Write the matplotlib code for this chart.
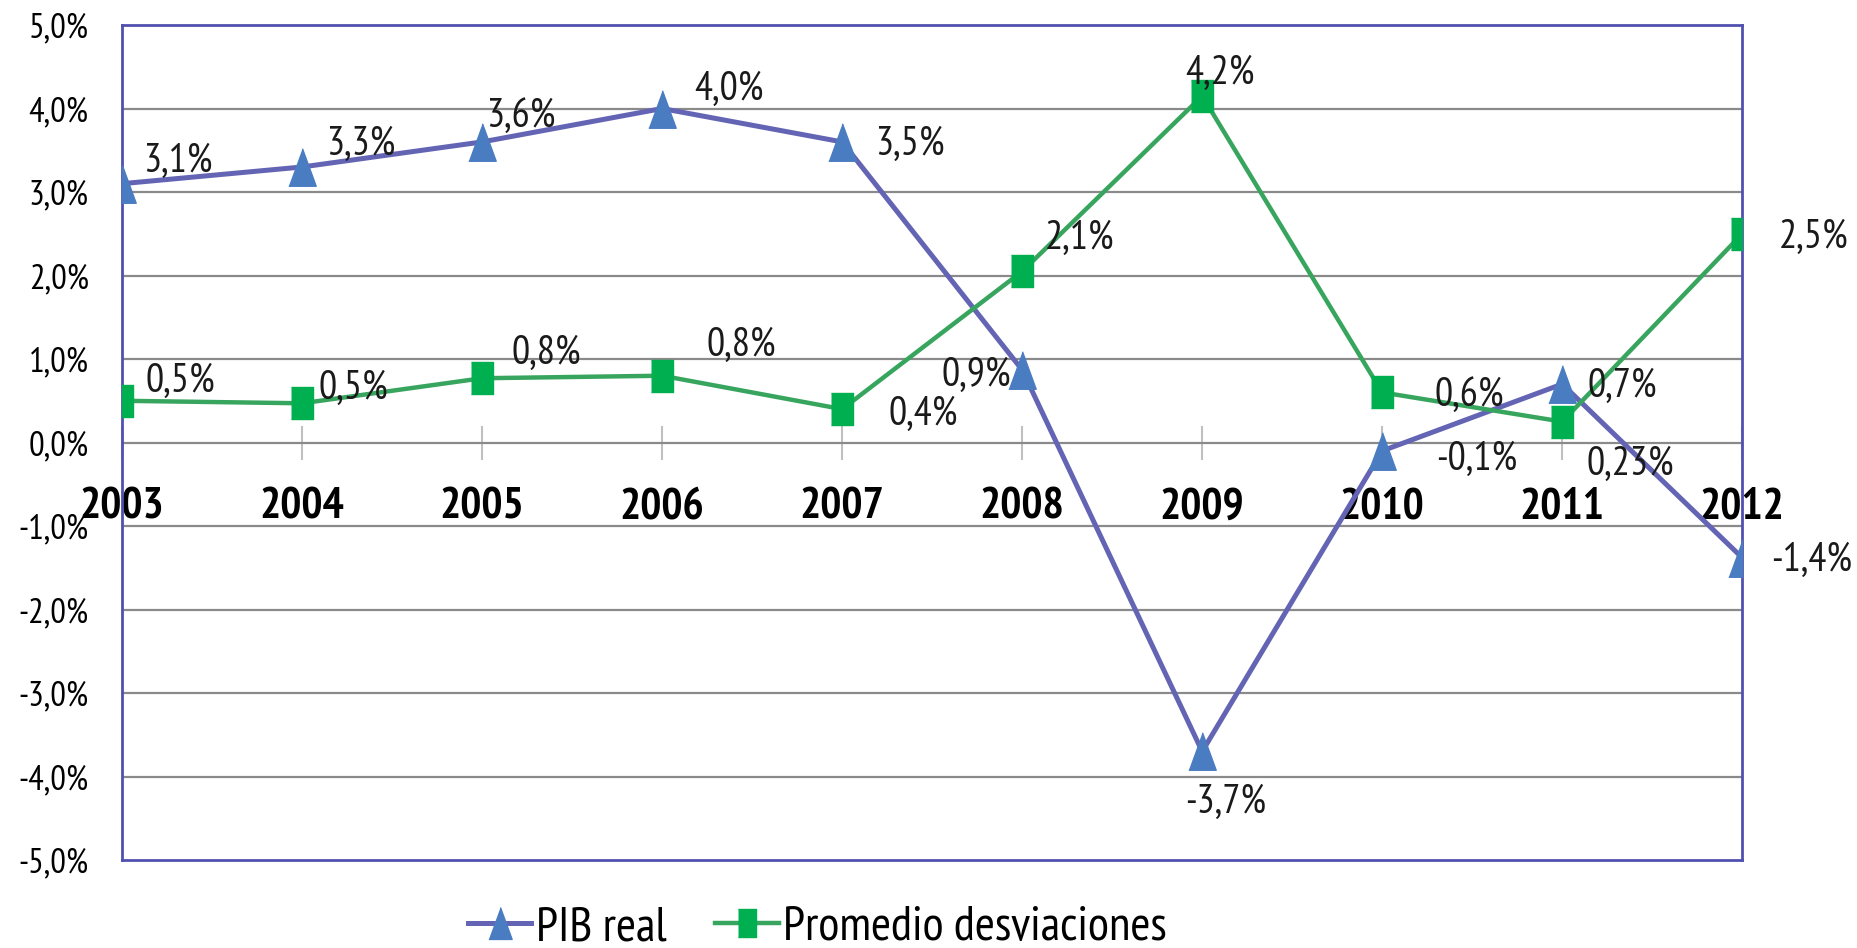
import matplotlib.pyplot as plt
from matplotlib import font_manager

years = ["2003", "2004", "2005", "2006", "2007", "2008", "2009", "2010", "2011", "2012"]
pib_real = [3.1, 3.3, 3.6, 4.0, 3.6, 0.87, -3.7, -0.1, 0.7, -1.38]
pib_labels = ["3,1%", "3,3%", "3,6%", "4,0%", "3,5%", "0,9%", "-3,7%", "-0,1%", "0,7%", "-1,4%"]
promedio = [0.5, 0.47, 0.77, 0.8, 0.4, 2.05, 4.15, 0.6, 0.25, 2.5]
promedio_labels = ["0,5%", "0,5%", "0,8%", "0,8%", "0,4%", "2,1%", "4,2%", "0,6%", "0,23%", "2,5%"]
y_ticks = [5, 4, 3, 2, 1, 0, -1, -2, -3, -4, -5]

# label offsets in points (dx, dy)
pib_off = [(40, 16), (42, 16), (28, 18), (48, 14), (49, -2), (-33, -4), (17, -37), (68, -6), (43, -2), (50, -2)]
prom_off = [(42, 14), (37, 11), (46, 18), (57, 22), (58, -4), (41, 24), (13, 16), (63, -2), (49, -31), (51, -3)]

names = {f.name for f in font_manager.fontManager.ttflist}
prefs = ["Liberation Sans Narrow", "Arial Narrow", "PT Sans Narrow", "Archivo Narrow",
         "Roboto Condensed", "Open Sans Condensed", "Carlito", "DejaVu Sans"]
font = next(f for f in prefs if f in names or f == "DejaVu Sans")
plt.rcParams["font.family"] = [font, "DejaVu Sans"]

fig = plt.figure(figsize=(18.58, 9.48), dpi=100)
ax = fig.add_axes([0.0657, 0.0928, 0.872, 0.8808])

x = list(range(len(years)))
tri = [(-0.73, -1), (0.73, -1), (0, 1)]
sq = [(-0.68, -1), (0.68, -1), (0.68, 1), (-0.68, 1)]

ax.plot(x, pib_real, color="#6464B4", lw=3.6, marker=tri, markersize=27,
        markerfacecolor="#4A7CC2", markeredgecolor="#4A7CC2", label="PIB real", zorder=3)
ax.plot(x, promedio, color="#38A55E", lw=3.2, marker=sq, markersize=23,
        markerfacecolor="#00B050", markeredgecolor="#00B050", label="Promedio desviaciones", zorder=4)

for i in x:
    ax.annotate(pib_labels[i], (i, pib_real[i]), xytext=pib_off[i], textcoords="offset points",
                ha="center", va="center", fontsize=29, color="#1a1a1a", zorder=5,
                annotation_clip=False)
    ax.annotate(promedio_labels[i], (i, promedio[i]), xytext=prom_off[i], textcoords="offset points",
                ha="center", va="center", fontsize=29, color="#1a1a1a", zorder=5,
                annotation_clip=False)

ax.set_xlim(0, 9)
ax.set_ylim(-5, 5)
ax.set_yticks(y_ticks)
ax.set_yticklabels([f"{v},0%" for v in y_ticks], fontsize=25)
ax.tick_params(axis="y", length=0, pad=24)
ax.set_xticks([])
for y in y_ticks[1:-1]:
    ax.axhline(y, color="#8a8a8a", lw=1.6, zorder=1)
for s in ax.spines.values():
    s.set_color("#5050B0")
    s.set_linewidth(2)

# category axis drawn along the zero line
sec = ax.secondary_xaxis(0.5)
sec.set_alignment("bottom")
sec.set_xticks(x)
sec.set_xticklabels(years, fontsize=32, fontweight="bold")
sec.tick_params(axis="x", direction="inout", length=25, width=1.5, color="#c0c0c0", pad=20)
sec.spines["bottom"].set_visible(False)
sec.spines["top"].set_visible(False)

fig.legend(loc="center", bbox_to_anchor=(0.44, 0.021), ncol=2, frameon=False,
           fontsize=35, handlelength=1.3, columnspacing=1.0, handletextpad=0.1, markerscale=0.85)

fig.savefig("out.png", dpi=100)
